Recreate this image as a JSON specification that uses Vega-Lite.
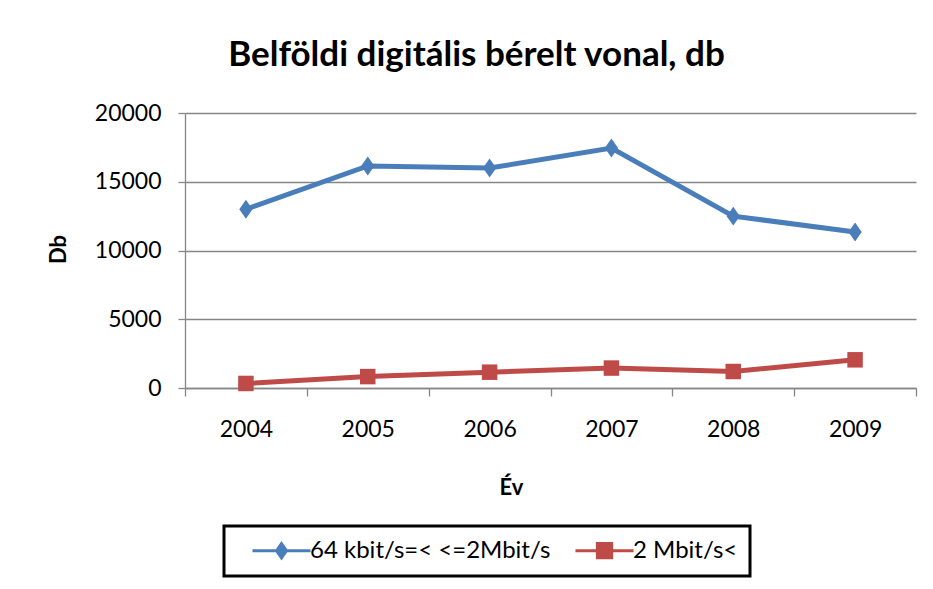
{
  "$schema": "https://vega.github.io/schema/vega-lite/v6.json",
  "width": 731,
  "height": 275,
  "autosize": "none",
  "padding": {"left": 185, "top": 113, "right": 17, "bottom": 201},
  "background": "white",
  "title": {
    "text": "Belföldi digitális bérelt vonal, db",
    "font": "Lato",
    "fontSize": 35,
    "fontWeight": "bold",
    "color": "black",
    "anchor": "middle",
    "dx": -74,
    "offset": 29
  },
  "data": {
    "values": [
      {"year": "2004", "series": "64 kbit/s=< <=2Mbit/s", "value": 13000},
      {"year": "2005", "series": "64 kbit/s=< <=2Mbit/s", "value": 16150},
      {"year": "2006", "series": "64 kbit/s=< <=2Mbit/s", "value": 16000},
      {"year": "2007", "series": "64 kbit/s=< <=2Mbit/s", "value": 17450},
      {"year": "2008", "series": "64 kbit/s=< <=2Mbit/s", "value": 12500},
      {"year": "2009", "series": "64 kbit/s=< <=2Mbit/s", "value": 11350},
      {"year": "2004", "series": "2 Mbit/s<", "value": 330},
      {"year": "2005", "series": "2 Mbit/s<", "value": 830},
      {"year": "2006", "series": "2 Mbit/s<", "value": 1150},
      {"year": "2007", "series": "2 Mbit/s<", "value": 1450},
      {"year": "2008", "series": "2 Mbit/s<", "value": 1200},
      {"year": "2009", "series": "2 Mbit/s<", "value": 2050}
    ]
  },
  "encoding": {
    "x": {
      "field": "year",
      "type": "ordinal",
      "scale": {"type": "band", "paddingInner": 0, "paddingOuter": 0},
      "axis": {
        "title": "Év",
        "titleFontSize": 22,
        "titleFontWeight": "bold",
        "titleColor": "black",
        "titleX": 326,
        "titleY": 99,
        "titleBaseline": "middle",
        "titleAlign": "center",
        "labelAngle": 0,
        "labelFontSize": 23,
        "labelColor": "black",
        "labelPadding": 22,
        "tickBand": "extent",
        "tickSize": 8,
        "tickColor": "#868686",
        "tickWidth": 1.3,
        "domainColor": "#868686",
        "domainWidth": 1.3,
        "grid": false
      }
    },
    "y": {
      "field": "value",
      "type": "quantitative",
      "scale": {"domain": [0, 20000], "nice": false},
      "axis": {
        "title": "Db",
        "titleFontSize": 22,
        "titleFontWeight": "bold",
        "titleColor": "black",
        "titleAngle": 270,
        "titleX": -127,
        "titleY": 136,
        "titleAlign": "center",
        "titleBaseline": "middle",
        "values": [0, 5000, 10000, 15000, 20000],
        "format": "d",
        "labelFontSize": 23,
        "labelColor": "black",
        "labelPadding": 17,
        "tickSize": 7,
        "tickColor": "#868686",
        "tickWidth": 1.3,
        "domainColor": "#868686",
        "domainWidth": 1.3,
        "grid": true,
        "gridColor": "#868686",
        "gridWidth": 1.3
      }
    }
  },
  "layer": [
    {
      "mark": {"type": "point", "filled": true, "size": 1, "strokeWidth": 0},
      "encoding": {
        "fill": {
          "field": "series",
          "type": "nominal",
          "scale": {"domain": ["64 kbit/s=< <=2Mbit/s", "2 Mbit/s<"], "range": ["#4A7EBB", "#BE4B48"]},
          "legend": {"title": null, "orient": "none", "legendX": 39, "legendY": 413, "direction": "horizontal"}
        },
        "stroke": {
          "field": "series",
          "type": "nominal",
          "scale": {"domain": ["64 kbit/s=< <=2Mbit/s", "2 Mbit/s<"], "range": ["#4A7EBB", "#BE4B48"]},
          "legend": {"title": null, "orient": "none", "legendX": 39, "legendY": 413, "direction": "horizontal"}
        },
        "shape": {
          "field": "series",
          "type": "nominal",
          "scale": {"domain": ["64 kbit/s=< <=2Mbit/s", "2 Mbit/s<"], "range": ["M0.36,0H5.64M3,-0.65L3.45,0L3,0.65L2.55,0Z", "M0.36,0H5.64M2.35,-0.65H3.65V0.65H2.35Z"]},
          "legend": {"title": null, "orient": "none", "legendX": 39, "legendY": 413, "direction": "horizontal"}
        }
      }
    },
    {
      "mark": {"type": "line", "strokeWidth": 5},
      "encoding": {
        "color": {
          "field": "series",
          "type": "nominal",
          "scale": {"domain": ["64 kbit/s=< <=2Mbit/s", "2 Mbit/s<"], "range": ["#4A7EBB", "#BE4B48"]},
          "legend": null
        }
      }
    },
    {
      "transform": [{"filter": "datum.series === '64 kbit/s=< <=2Mbit/s'"}],
      "mark": {"type": "point", "filled": true, "opacity": 1, "shape": "M0,-1L0.7,0L0,1L-0.7,0Z", "size": 360, "color": "#4A7EBB"}
    },
    {
      "transform": [{"filter": "datum.series === '2 Mbit/s<'"}],
      "mark": {"type": "point", "filled": true, "opacity": 1, "shape": "square", "size": 240, "color": "#BE4B48"}
    }
  ],
  "config": {
    "font": "Lato",
    "view": {"stroke": null},
    "legend": {
      "padding": 12,
      "strokeColor": "black",
      "strokeWidth": 3,
      "fillColor": "white",
      "symbolSize": 484,
      "symbolStrokeWidth": 3,
      "symbolOpacity": 1,
      "labelFontSize": 24,
      "labelColor": "black",
      "labelOffset": 49,
      "labelLimit": 500,
      "labelExpr": "datum.value == '2 Mbit/s<' ? datum.label + '\u00a0\u00a0\u00a0' : datum.label",
      "columnPadding": 8
    }
  }
}
